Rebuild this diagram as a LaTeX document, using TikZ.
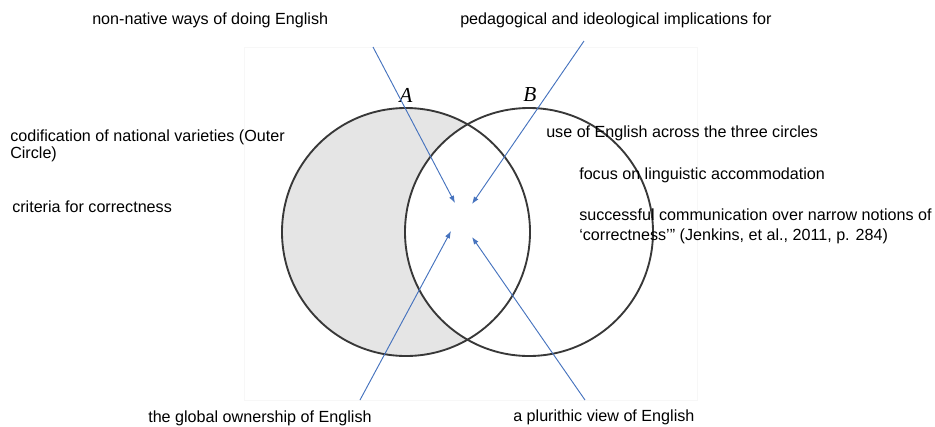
\documentclass[tikz,border=0pt]{standalone}
\usepackage{fontspec}
\setmainfont{Liberation Sans}
\newfontfamily\letterfont{Liberation Serif}
\usetikzlibrary{arrows.meta}
\definecolor{arrowblue}{RGB}{70,115,190}

\begin{document}
\begin{tikzpicture}[x=0.75pt,y=-0.75pt]
\tikzstyle{every node}=[inner sep=0pt,font=\fontsize{12.1}{14}\selectfont]
\tikzstyle{lbl}=[anchor=west,align=left]
\tikzstyle{set}=[circle,draw=black!78,line width=1.4pt,minimum size=186pt]
\tikzstyle{tag}=[font=\letterfont\itshape\fontsize{16}{16}\selectfont]
\tikzstyle{pointer}=[draw=arrowblue,line width=0.7pt,-{Latex[length=5.5pt,width=4pt]}]
\useasboundingbox (0,0) rectangle (935,426);
\draw[black!3] (244,47) rectangle (697,400);
% A without B
\begin{scope}[even odd rule]
\clip (529,232) circle (93pt) (0,0) rectangle (935,426);
\fill[black!10] (406,232) circle (93pt);
\end{scope}
\node[set] (A) at (406,232) {};
\node[set] (B) at (529,232) {};
\node[tag] (la) at (406,95) {A};
\node[tag] (lb) at (530,95) {B};
% texts
\node[lbl] (t1) at (92,20) {non-native ways of doing English};
\node[lbl] (t2) at (460,20) {pedagogical and ideological implications for};
\node[lbl,font=\fontsize{12.1}{12.8}\selectfont] (t3) at (10,146) {codification of national varieties (Outer\\Circle)};
\node[lbl] (t4) at (12,207) {criteria for correctness};
\node[lbl] (t5) at (546,133) {use of English across the three circles};
\node[lbl] (t6) at (579,175) {focus on linguistic accommodation};
\node[lbl,font=\fontsize{12.1}{15}\selectfont] (t7) at (579,226) {successful communication over narrow notions of\\‘correctness’” (Jenkins, et al., 2011, p. 284)};
\node[lbl] (t8) at (148,418) {the global ownership of English};
\node[lbl] (t9) at (513,417) {a plurithic view of English};
% arrows
\coordinate (s1) at (373,47);
\coordinate (s2) at (584,41);
\coordinate (s3) at (360,400);
\coordinate (s4) at (585,400);
\coordinate (e1) at (455,203);
\coordinate (e2) at (472,204);
\coordinate (e3) at (451,231);
\coordinate (e4) at (472,237);
\draw[pointer] (s1) -- (e1);
\draw[pointer] (s2) -- (e2);
\draw[pointer] (s3) -- (e3);
\draw[pointer] (s4) -- (e4);
\end{tikzpicture}
\end{document}
